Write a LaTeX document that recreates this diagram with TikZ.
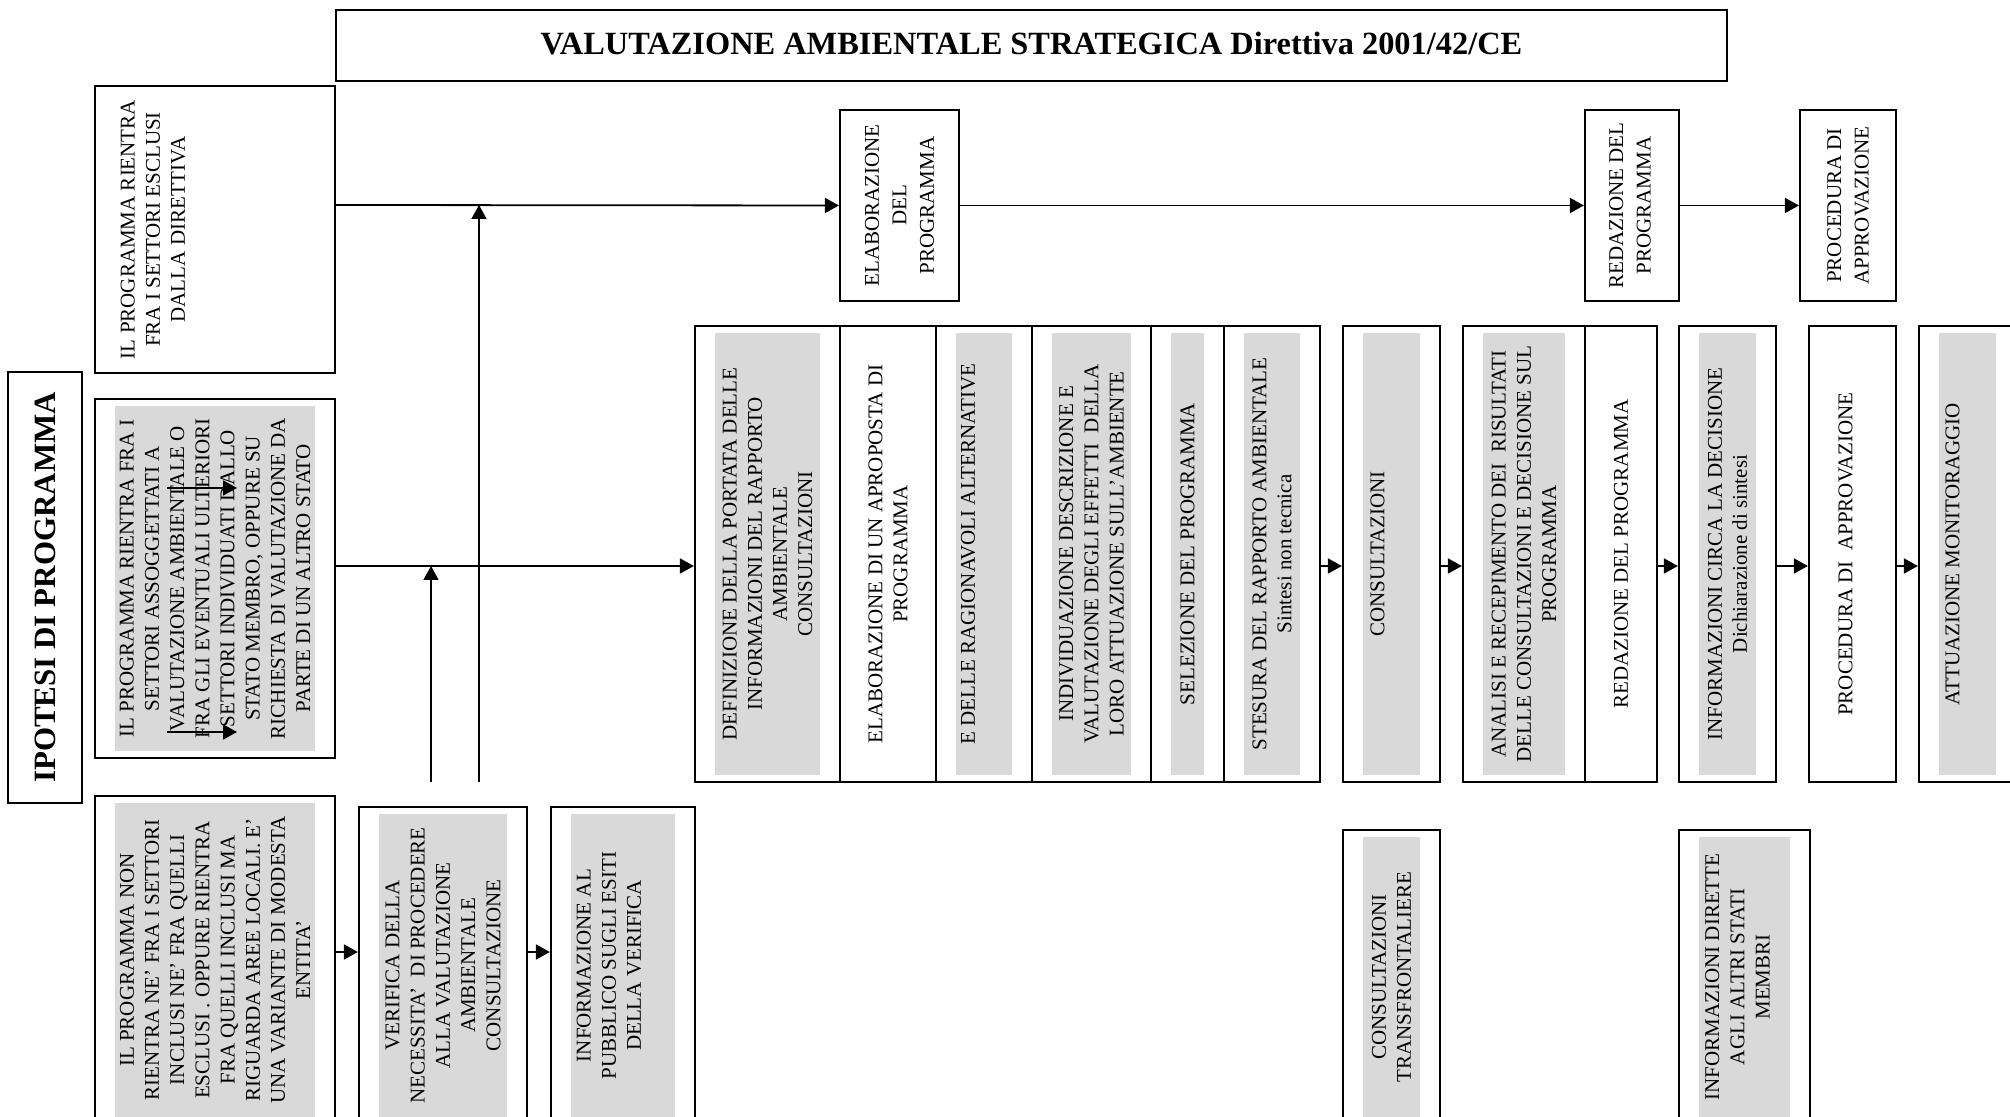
\documentclass[tikz,border=0pt]{standalone}
\usepackage{fontspec}
\setmainfont{Liberation Serif}
\usetikzlibrary{fit,arrows.meta}
\definecolor{boxgray}{RGB}{217,217,217}

\begin{document}
\begin{tikzpicture}[
  x=0.5pt, y=-0.5pt,
  box/.style={rectangle,draw,line width=1.1pt,inner sep=0pt},
  shaded/.style={path picture={\fill[boxgray] ([shift={(20,7)}]path picture bounding box.north west) rectangle ([shift={(-20,-7)}]path picture bounding box.south east);}},
  vtext/.style={rotate=90,align=center,inner sep=0pt,font=\fontsize{10.5}{12.6}\selectfont},
  toptext/.style={vtext,font=\fontsize{10.5}{13.8}\selectfont},
  arr/.style={line width=0.9pt,-{Triangle[length=7pt,width=7.5pt]}}
  ]
  \useasboundingbox (0,0) rectangle (2010,1117);
  \clip (0,0) rectangle (2010,1117);

  \node[box, fit={(336,10) (1727,81)}, label={[yshift=1pt, font=\fontsize{16.2}{19}\selectfont\bfseries]center:VALUTAZIONE AMBIENTALE STRATEGICA Direttiva 2001/42/CE}] (title) {};
  \node[box, fit={(8,372) (82,803)}, label={[vtext, font=\fontsize{15.5}{18}\selectfont\bfseries]center:IPOTESI DI PROGRAMMA}] (ipotesi) {};

  % ipotesi
  \node[box, fit={(95,86) (335,373)}, label={[xshift=-31pt, vtext]center:{IL PROGRAMMA RIENTRA\\FRA I SETTORI ESCLUSI\\DALLA DIRETTIVA}}] (esclusi) {};
  \node[box, shaded, fit={(95,399) (335,758)}, label={[vtext]center:{IL PROGRAMMA RIENTRA FRA I\\SETTORI ASSOGGETTATI A\\VALUTAZIONE AMBIENTALE O\\FRA GLI EVENTUALI ULTERIORI\\SETTORI INDIVIDUATI DALLO\\STATO MEMBRO, OPPURE SU\\RICHIESTA DI VALUTAZIONE DA\\PARTE DI UN ALTRO STATO}}] (assogg) {};
  \node[box, shaded, fit={(95,796) (335,1124)}, label={[vtext]center:{IL PROGRAMMA NON\\RIENTRA NE’ FRA I SETTORI\\INCLUSI NE’ FRA QUELLI\\ESCLUSI . OPPURE RIENTRA\\FRA QUELLI INCLUSI MA\\RIGUARDA AREE LOCALI. E’\\UNA VARIANTE DI MODESTA\\ENTITA’}}] (nonrientra) {};
  \node[box, shaded, fit={(359,807) (527,1124)}, label={[vtext]center:{VERIFICA DELLA\\NECESSITA’\ \ DI PROCEDERE\\ALLA VALUTAZIONE\\AMBIENTALE\\CONSULTAZIONE}}] (verifica) {};
  \node[box, shaded, fit={(551,807) (695,1124)}, label={[xshift=-7pt, vtext]center:{INFORMAZIONE AL\\PUBBLICO SUGLI ESITI\\DELLA VERIFICA}}] (infopub) {};

  % riga superiore
  \node[box, fit={(840,110) (959,301)}, label={[toptext]center:{ELABORAZIONE\\DEL\\PROGRAMMA}}] (elab) {};
  \node[box, fit={(1585,110) (1679,301)}, label={[xshift=-1pt, toptext]center:{REDAZIONE DEL\\PROGRAMMA}}] (redtop) {};
  \node[box, fit={(1800,110) (1896,301)}, label={[toptext]center:{PROCEDURA DI\\APPROVAZIONE}}] (proctop) {};

  % riga centrale
  \node[box, shaded, fit={(695,326) (840,782)}, label={[vtext]center:{DEFINIZIONE DELLA PORTATA DELLE\\INFORMAZIONI DEL RAPPORTO\\AMBIENTALE\\CONSULTAZIONI}}] (definiz) {};
  \node[box, fit={(840,326) (936,782)}, label={[vtext]center:{ELABORAZIONE DI UN APROPOSTA DI\\PROGRAMMA}}] (proposta) {};
  \node[box, shaded, fit={(936,326) (1032,782)}, label={[xshift=-8pt, vtext]center:{E DELLE RAGIONAVOLI ALTERNATIVE}}] (alternat) {};
  \node[box, shaded, fit={(1032,326) (1151,782)}, label={[vtext]center:{INDIVIDUAZIONE DESCRIZIONE E\\VALUTAZIONE DEGLI EFFETTI\ \ DELLA\\LORO ATTUAZIONE SULL’AMBIENTE}}] (effetti) {};
  \node[box, shaded, fit={(1151,326) (1224,782)}, label={[vtext]center:{SELEZIONE DEL PROGRAMMA}}] (selez) {};
  \node[box, shaded, fit={(1224,326) (1320,782)}, label={[vtext]center:{STESURA DEL RAPPORTO AMBIENTALE\\Sintesi non tecnica}}] (stesura) {};
  \node[box, shaded, fit={(1343,326) (1440,782)}, label={[xshift=-7pt, vtext]center:{CONSULTAZIONI}}] (consult) {};
  \node[box, shaded, fit={(1463,326) (1585,782)}, label={[vtext]center:{ANALISI E RECEPIMENTO DEI\ \ RISULTATI\\DELLE CONSULTAZIONI E DECISIONE SUL\\PROGRAMMA}}] (analisi) {};
  \node[box, fit={(1585,326) (1657,782)}, label={[vtext]center:{REDAZIONE DEL PROGRAMMA}}] (redaz) {};
  \node[box, shaded, fit={(1679,326) (1776,782)}, label={[vtext]center:{INFORMAZIONI CIRCA LA DECISIONE\\Dichiarazione di sintesi}}] (infodec) {};
  \node[box, fit={(1809,326) (1896,782)}, label={[xshift=-3.5pt, vtext]center:{PROCEDURA DI\ \ APPROVAZIONE}}] (approv) {};
  \node[box, shaded, fit={(1919,326) (2016,782)}, label={[xshift=-7.5pt, vtext]center:{ATTUAZIONE MONITORAGGIO}}] (monit) {};

  % riga inferiore
  \node[box, shaded, fit={(1343,830) (1440,1124)}, label={[vtext]center:{CONSULTAZIONI\\TRANSFRONTALIERE}}] (transfr) {};
  \node[box, shaded, fit={(1679,830) (1810,1124)}, label={[xshift=-3.5pt, vtext]center:{INFORMAZIONI DIRETTE\\AGLI ALTRI STATI\\MEMBRI}}] (altristati) {};

  \coordinate (toprow) at (0,205);
  \coordinate (midrow) at (0,566);
  \coordinate (botrow) at (0,952);
  \coordinate (up1) at (431,782);
  \coordinate (up2) at (479,782);
  \coordinate (in1) at (167,488);
  \coordinate (in1e) at (237,488);
  \coordinate (in2) at (167,732);
  \coordinate (in2e) at (237,732);

  \draw[arr] (esclusi.east |- toprow) -- (elab.west);
  \draw[arr] (elab.east) -- (redtop.west);
  \draw[arr] (redtop.east) -- (proctop.west);
  \draw[arr] (assogg.east |- midrow) -- (definiz.west |- midrow);
  \draw[arr] (up1) -- (up1 |- midrow);
  \draw[arr] (up2) -- (up2 |- toprow);
  \draw[arr] (in1) -- (in1e);
  \draw[arr] (in2) -- (in2e);
  \draw[arr] (stesura.east |- midrow) -- (consult.west |- midrow);
  \draw[arr] (consult.east |- midrow) -- (analisi.west |- midrow);
  \draw[arr] (redaz.east |- midrow) -- (infodec.west |- midrow);
  \draw[arr] (infodec.east |- midrow) -- (approv.west |- midrow);
  \draw[arr] (approv.east |- midrow) -- (monit.west |- midrow);
  \draw[arr] (nonrientra.east |- botrow) -- (verifica.west |- botrow);
  \draw[arr] (verifica.east |- botrow) -- (infopub.west |- botrow);
\end{tikzpicture}
\end{document}
